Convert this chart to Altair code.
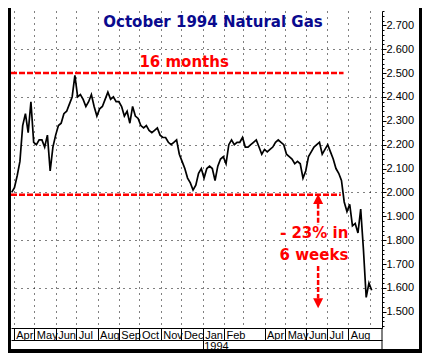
import altair as alt
import pandas as pd

# ---------------- data ----------------
# October 1994 natural gas futures, one reading every 4 calendar days from 1993-03-29
prices = [2.00, 2.02, 2.07, 2.13, 2.28, 2.33, 2.25, 2.38, 2.21, 2.20,
          2.22, 2.22, 2.19, 2.24, 2.09, 2.19, 2.24, 2.28, 2.29, 2.33,
          2.34, 2.37, 2.40, 2.49, 2.40, 2.41, 2.39, 2.36, 2.38, 2.41,
          2.36, 2.32, 2.35, 2.36, 2.39, 2.42, 2.39, 2.40, 2.38, 2.38,
          2.36, 2.32, 2.34, 2.29, 2.36, 2.32, 2.31, 2.28, 2.27, 2.28,
          2.26, 2.25, 2.26, 2.27, 2.24, 2.23, 2.23, 2.21, 2.20, 2.21,
          2.22, 2.16, 2.13, 2.10, 2.06, 2.04, 2.01, 2.03, 2.08, 2.10,
          2.06, 2.10, 2.11, 2.10, 2.05, 2.11, 2.14, 2.15, 2.12, 2.20,
          2.22, 2.20, 2.21, 2.21, 2.23, 2.19, 2.19, 2.20, 2.21, 2.22,
          2.19, 2.16, 2.18, 2.17, 2.18, 2.19, 2.21, 2.22, 2.21, 2.20,
          2.16, 2.15, 2.14, 2.12, 2.13, 2.12, 2.06, 2.09, 2.15, 2.17,
          2.19, 2.20, 2.21, 2.16, 2.18, 2.20, 2.17, 2.14, 2.10, 2.08,
          2.05, 1.96, 1.92, 1.95, 1.86, 1.87, 1.83, 1.93, 1.76, 1.56,
          1.62, 1.59]
dates = pd.date_range("1993-03-29", periods=len(prices), freq="4D")

level_values = [2.50, 1.99]
level_start = ["1993-03-28", "1993-03-28"]
level_end = ["1994-07-25", "1994-07-21"]

y_labels = [1.5, 1.6, 1.7, 1.8, 1.9, 2.0, 2.1, 2.2, 2.3, 2.4, 2.5, 2.6, 2.7]
y_minor = [round(1.44 + 0.02 * i, 2) for i in range(67)]
month_list = [(1993, m) for m in range(4, 13)] + [(1994, m) for m in range(1, 10)]

title_text = ["October 1994 Natural Gas"]
title_date = ["1994-01-16"]
title_y = [2.712]

note_text = ["16 months"]
note_date = ["1993-12-05"]
note_y = [2.548]

drop_text = ["- 23% in", "6 weeks"]
drop_date = ["1994-08-01", "1994-08-01"]
drop_y = [1.828, 1.738]

arrow_date = "1994-06-18"
shaft_top = [1.952, 1.692]
shaft_bottom = [1.864, 1.556]
head_y = [1.972, 1.536]
head_dir = ["up", "down"]

# ---------------- layout ----------------
W, H = 371, 317
RED = "#ff0000"
NAVY = "#0a0a8e"
FONT = "Liberation Sans"
BFONT = "DejaVu Sans"

xscale = alt.Scale(domain=[alt.DateTime(year=1993, month=3, date=28),
                           alt.DateTime(year=1994, month=9, date=19)])
yscale = alt.Scale(domain=[1.432, 2.76], nice=False, zero=False)

hide_test = "month(datum.value) == 2 || (month(datum.value) == 8 && year(datum.value) == 1994)"

month_axis = alt.Axis(
    values=[alt.DateTime(year=y, month=m, date=1) for y, m in month_list],
    format="%b", title=None, orient="bottom",
    labelExpr=f"({hide_test}) ? '' : datum.label",
    labelAlign="left", labelBaseline="top", labelOffset=2, labelPadding=-11,
    labelFont=FONT, labelFontSize=11, labelColor="black",
    labelOverlap=False, labelBound=False, labelFlush=False,
    tickSize=12, tickColor="black", tickWidth=1,
    tickOpacity={"condition": {"test": hide_test, "value": 0}, "value": 1},
    domainColor="black", domainWidth=1,
    grid=True, gridColor="black", gridDash=[1, 5], gridWidth=1, gridOpacity=1,
)

year_axis = alt.Axis(
    values=[alt.DateTime(year=1994, month=1, date=1)], format="%Y", title=None,
    orient="bottom", offset=12,
    labelAlign="left", labelBaseline="top", labelOffset=1, labelPadding=-9,
    labelFont=FONT, labelFontSize=11, labelColor="black",
    labelOverlap=False, labelBound=False, labelFlush=False,
    tickSize=9, tickColor="black", domainColor="black", grid=False,
)

y_axis = alt.Axis(
    values=y_labels, format=".3f", title=None, orient="right",
    labelFont=FONT, labelFontSize=11, labelColor="black", labelPadding=0,
    tickSize=4, tickColor="black", domainColor="black", domainWidth=1,
    grid=True, gridColor="black", gridDash=[1, 5], gridWidth=1,
    gridOpacity={"condition": {"test": "round(datum.value * 10) % 2 == 1", "value": 0}, "value": 1},
)

minor_axis = alt.Axis(
    values=y_minor, title=None, orient="right", labels=False, domain=False,
    grid=False, tickSize=2, tickColor="black",
)

price_df = pd.DataFrame({"date": dates, "price": prices})
line = alt.Chart(price_df).mark_line(color="black", strokeWidth=1.7).encode(
    x=alt.X("date:T", scale=xscale, axis=month_axis),
    y=alt.Y("price:Q", scale=yscale, axis=y_axis),
)

lvl_df = pd.DataFrame({"start": pd.to_datetime(level_start), "end": pd.to_datetime(level_end),
                       "level": level_values})
levels = alt.Chart(lvl_df).mark_rule(color=RED, strokeWidth=2.5, strokeDash=[6, 2]).encode(
    x=alt.X("start:T", scale=xscale, axis=year_axis),
    x2="end:T",
    y=alt.Y("level:Q", scale=yscale, axis=minor_axis),
)

def text_layer(texts, ds, ys, color, align, size):
    df = pd.DataFrame({"t": texts, "d": pd.to_datetime(ds), "v": ys})
    return alt.Chart(df).mark_text(
        color=color, align=align, baseline="middle", font=BFONT,
        fontWeight="bold", fontSize=size,
    ).encode(
        x=alt.X("d:T", scale=xscale, axis=None),
        y=alt.Y("v:Q", scale=yscale, axis=None),
        text="t:N",
    )

title = text_layer(title_text, title_date, title_y, NAVY, "center", 15)
note = text_layer(note_text, note_date, note_y, RED, "center", 15)
drop = text_layer(drop_text, drop_date, drop_y, RED, "right", 15)

shaft_df = pd.DataFrame({"d": pd.to_datetime([arrow_date] * 2), "a": shaft_top, "b": shaft_bottom})
shafts = alt.Chart(shaft_df).mark_rule(color=RED, strokeWidth=2.5, strokeDash=[5, 2]).encode(
    x=alt.X("d:T", scale=xscale, axis=None),
    y=alt.Y("a:Q", scale=yscale, axis=None),
    y2="b:Q",
)

head_df = pd.DataFrame({"d": pd.to_datetime([arrow_date] * 2), "v": head_y, "dir": head_dir})
heads = alt.Chart(head_df).mark_point(filled=True, opacity=1, size=100, color=RED).encode(
    x=alt.X("d:T", scale=xscale, axis=None),
    y=alt.Y("v:Q", scale=yscale, axis=None),
    shape=alt.Shape("dir:N", scale=alt.Scale(domain=["up", "down"],
                                             range=["M0,-1L1,1L-1,1Z", "M0,1L1,-1L-1,-1Z"]),
                    legend=None),
)

dummy = pd.DataFrame({"a": [0]})
def frame_rule(**enc):
    width = enc.pop("w")
    return alt.Chart(dummy).mark_rule(color="black", strokeWidth=width).encode(**enc)

frame = [
    frame_rule(w=3, x=alt.value(-1.5), y=alt.value(-3), y2=alt.value(342)),
    frame_rule(w=3, x=alt.value(409.5), y=alt.value(-3), y2=alt.value(342)),
    frame_rule(w=4, x=alt.value(-3), x2=alt.value(411), y=alt.value(340)),
    frame_rule(w=1, x=alt.value(W), y=alt.value(H), y2=alt.value(338)),
]

chart = alt.layer(line, levels, title, note, drop, shafts, heads, *frame).resolve_axis(
    x="independent", y="independent"
).properties(
    width=W, height=H, autosize="none",
    padding={"left": 3, "top": 3, "right": 40, "bottom": 25},
    background="white",
).configure_view(stroke=None)

chart.save("out.html", embed_options={"renderer": "svg", "actions": False})
